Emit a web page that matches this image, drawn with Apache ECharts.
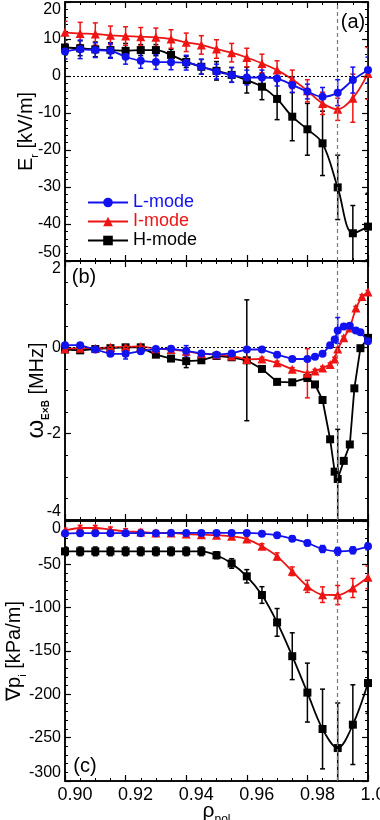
<!DOCTYPE html>
<html>
<head>
<meta charset="utf-8">
<script src="https://cdn.jsdelivr.net/npm/echarts@6/dist/echarts.min.js"></script>
<style>
html,body{margin:0;padding:0;background:#fff;}
#c{width:380px;height:820px;}
</style>
</head>
<body>
<div id="c"></div>
<script>
// ---------- data ----------
const rho = [0.900,0.905,0.910,0.915,0.920,0.925,0.930,0.935,0.940,0.945,0.950,0.955,0.960,0.965,0.970,0.975,0.980,0.985,0.990,0.995,1.000];

// panel (a): Er [kV/m]
const erL    = [6.6,7.2,7.0,6.8,5.2,4.1,3.8,3.7,3.6,2.5,1.2,0.3,-0.4,-0.4,-0.7,-2.4,-4.2,-5.6,-4.5,-1.1,1.6];
const erLErr = [2,2.5,2,2,2,2,2,2,2,2,2,2,2,2,2,2,2,2.5,3.5,3.5,3.5];
const erI    = [11.8,11.5,11.35,11.0,10.8,10.6,10.45,10.0,9.1,8.4,7.3,6.3,5.0,3.4,1.6,-0.9,-4.0,-7.4,-9.0,-6.0,0.7];
const erIErr = [3,3,3,2.5,2.5,2.5,2.5,2.5,2.5,2.5,2.5,2.5,2.5,2.5,2.5,2.5,3,3,3,6.5,7];
const erH    = [7.7,7.5,7.2,7.0,6.8,7.0,7.0,5.7,3.8,2.5,1.4,0.3,-1.1,-2.9,-6.2,-11.0,-14.4,-18.2,-30.1,-42.5,-40.7];
const erHErr = [2,2,2,2,2,1.5,1.5,1.5,1.5,2,2.5,2,3.5,3.5,5.6,6.5,7,8.7,8.7,7.5,9];

// panel (b): omega ExB [MHz]
const rhoBL = [0.900,0.905,0.910,0.915,0.920,0.925,0.930,0.935,0.940,0.945,0.950,0.955,0.960,0.965,0.970,0.975,0.980,0.9825,0.985,0.9875,0.989,0.990,0.992,0.994,0.996,0.9975,1.000];
const wL    = [0.05,0.05,-0.05,-0.15,-0.15,-0.09,-0.04,-0.03,-0.08,-0.14,-0.17,-0.14,-0.05,-0.05,-0.17,-0.27,-0.27,-0.22,-0.15,0.05,0.18,0.39,0.48,0.50,0.39,0.35,0.14];
const wLErr = [0.04,0.04,0.04,0.05,0.12,0.05,0.04,0.05,0.12,0.05,0.04,0.04,0.05,0.04,0.04,0.04,0.05,0.04,0.04,0.04,0.05,0.3,0.05,0.05,0.04,0.04,0.05];
const rhoBI = [0.900,0.905,0.910,0.915,0.920,0.925,0.930,0.935,0.940,0.945,0.950,0.955,0.960,0.965,0.970,0.975,0.980,0.9825,0.985,0.9875,0.989,0.990,0.992,0.994,0.996,0.998,1.000];
const wI    = [-0.03,-0.02,-0.02,0.0,0.01,0.02,-0.03,-0.05,-0.09,-0.15,-0.17,-0.2,-0.28,-0.27,-0.36,-0.51,-0.6,-0.55,-0.48,-0.40,-0.27,-0.04,0.22,0.45,0.91,1.18,1.28];
const wIErr = [0.04,0.07,0.04,0.04,0.04,0.04,0.04,0.04,0.04,0.04,0.04,0.04,0.04,0.04,0.04,0.04,0.57,0.04,0.04,0.04,0.04,0.04,0.04,0.04,0.04,0.04,0.04];
const rhoBH = [0.900,0.905,0.910,0.915,0.920,0.925,0.930,0.935,0.940,0.945,0.950,0.955,0.960,0.965,0.970,0.975,0.980,0.9825,0.985,0.9875,0.989,0.990,0.992,0.994,0.9955,0.9975,1.000];
const wH    = [-0.05,-0.07,-0.04,-0.02,0.0,0.0,-0.17,-0.26,-0.32,-0.3,-0.2,-0.23,-0.3,-0.5,-0.8,-0.81,-0.71,-0.86,-1.22,-2.13,-2.88,-3.05,-2.63,-2.25,-0.95,-0.02,0.22];
const wHErr = [0.03,0.03,0.03,0.03,0.03,0.03,0.03,0.03,0.15,0.03,0.03,0.03,1.4,0.03,0.03,0.03,0.03,0.03,0.03,0.03,0.03,1.15,0.03,0.03,0.03,0.03,0.03];

// panel (c): grad p_i [kPa/m]
const pL    = [-14.5,-14,-14,-14,-14,-14,-14,-13.8,-13.8,-13.8,-13.8,-13.8,-13.8,-14.6,-16.5,-20.4,-25.4,-32.3,-35,-33.8,-29.2];
const pLErr = [2.5,2.5,2.5,2.5,2.5,2.5,2.5,2.5,2.5,2.5,2.5,2.5,2.5,2.5,2.5,3,3,4,4.5,4,4];
const pI    = [-11.2,-8.1,-8.1,-10,-11.9,-12.7,-13.8,-13.8,-15,-15.8,-16.5,-17.7,-20.8,-29.2,-40.8,-58,-75.4,-85,-85.4,-77.3,-65];
const pIErr = [3,3,3,3,3,3,3,3,3,3,3,3,3,3,4,5,7,9,11,11,13];
const pH    = [-35,-35,-35,-35,-35,-35,-35,-35,-35,-35,-39.5,-49,-63.8,-85.4,-117,-156,-198,-240,-262,-235,-187];
const pHErr = [5,5,5,5,5,5,5,5,5,5,4,5.5,7.7,9.6,16,27,34,46,52,46,35];

const seriesNames = ['L-mode','I-mode','H-mode'];
const separatrix = 0.99;

// ---------- style ----------
const BLUE = '#1212ee', RED = '#ee1414', BLACK = '#000000';
const FONT = 'Liberation Sans, Arial, sans-serif';

const grids = [
  {left:65, right:12, top:2,   height:259},
  {left:65, right:12, top:261, height:259},
  {left:65, right:12, top:521, height:260}
];

function xAx(gi, pos, showLabels, extra){
  return Object.assign({
    type:'value', gridIndex:gi, position:pos, min:0.9, max:1.0, interval:0.02,
    axisLine:{show:true, onZero:false, lineStyle:{color:'#000', width:1.5}},
    axisTick:{show:true, inside:true, length:6, lineStyle:{color:'#000', width:1.2}},
    minorTick:{show:true, splitNumber:4, length:3, lineStyle:{color:'#000', width:1}},
    splitLine:{show:false},
    axisLabel:{show:showLabels, fontSize:18, fontFamily:FONT, color:'#000', margin:5,
      padding:[0,0,0,20], hideOverlap:false,
      formatter:v=>v.toFixed(2)}
  }, extra||{});
}
function yAx(gi, pos, min, max, interval, split, showLabels, extra){
  return Object.assign({
    type:'value', gridIndex:gi, position:pos, min:min, max:max, interval:interval,
    axisLine:{show:true, onZero:false, lineStyle:{color:'#000', width:1.5}},
    axisTick:{show:true, inside:true, length:6, lineStyle:{color:'#000', width:1.2}},
    minorTick:{show:true, splitNumber:split, length:3, lineStyle:{color:'#000', width:1}},
    splitLine:{show:false},
    axisLabel:{show:showLabels, fontSize:16, fontFamily:FONT, color:'#000', margin:4,
      showMinLabel:true, showMaxLabel:true, hideOverlap:false,
      verticalAlignMinLabel:'bottom', verticalAlignMaxLabel:'top'}
  }, extra||{});
}

const nameStyle = {fontFamily:FONT, color:'#000'};
const xAxes = [
  xAx(0,'bottom',false), xAx(0,'top',false),
  xAx(1,'bottom',false), xAx(1,'top',false),
  xAx(2,'bottom',true,{
    name:'{n|ρ}{s|pol}', nameLocation:'middle', nameGap:20, nameMoveOverlap:false,
    nameTextStyle:Object.assign({rich:{
      n:{fontSize:21, fontFamily:FONT, verticalAlign:'bottom', padding:[0,0,4,0]},
      s:{fontSize:12, fontFamily:FONT, verticalAlign:'bottom'}}}, nameStyle)
  }), xAx(2,'top',false)
];
const yAxes = [
  yAx(0,'left',-50,20,10,5,true,{
    name:'{n|E}{s|r}{n| [kV/m]}', nameLocation:'middle', nameRotate:90, nameGap:25, nameMoveOverlap:false,
    nameTextStyle:Object.assign({rich:{
      n:{fontSize:20, fontFamily:FONT, verticalAlign:'bottom', padding:[0,0,4,0]},
      s:{fontSize:11, fontFamily:FONT, verticalAlign:'bottom'}}}, nameStyle)
  }), yAx(0,'right',-50,20,10,5,false),
  yAx(1,'left',-4,2,2,4,true,{
    name:'{w|ω}{s|E×B}{n| [MHz]}', nameLocation:'middle', nameRotate:90, nameGap:14, nameMoveOverlap:false,
    nameTextStyle:Object.assign({rich:{
      w:{fontSize:24, fontFamily:FONT, verticalAlign:'bottom', padding:[0,0,3,0]},
      n:{fontSize:20, fontFamily:FONT, verticalAlign:'bottom', padding:[0,0,4,0]},
      s:{fontSize:10, fontFamily:FONT, fontWeight:'bold', verticalAlign:'bottom'}}}, nameStyle)
  }), yAx(1,'right',-4,2,2,4,false),
  yAx(2,'left',-300,0,50,5,true,{
    name:'{n|∇p}{s|i}{n| [kPa/m]}', nameLocation:'middle', nameRotate:90, nameGap:37, nameMoveOverlap:false,
    nameTextStyle:Object.assign({rich:{
      n:{fontSize:20, fontFamily:FONT, verticalAlign:'bottom', padding:[0,0,4,0]},
      s:{fontSize:11, fontFamily:FONT, verticalAlign:'bottom'}}}, nameStyle)
  }), yAx(2,'right',-300,0,50,5,false)
];

function pairs(xs, ys){ return xs.map((x,i)=>[x, ys[i]]); }
function triples(xs, ys, es){ return xs.map((x,i)=>[x, ys[i], es[i]]); }

function errSeries(name, xs, ys, es, gi, color){
  return {
    type:'custom', name:name + ' error', xAxisIndex:gi*2, yAxisIndex:gi*2, clip:true, z:2,
    silent:true, itemStyle:{color:color},
    dimensions:['x','y','e'], encode:{x:0, y:1},
    data:triples(xs, ys, es),
    renderItem:function(params, api){
      const x = api.value(0), y = api.value(1), e = api.value(2);
      const p1 = api.coord([x, y+e]), p2 = api.coord([x, y-e]);
      const w = 2.5;
      const st = {stroke:color, lineWidth:1.5};
      return {type:'group', children:[
        {type:'line', shape:{x1:p1[0], y1:p1[1], x2:p2[0], y2:p2[1]}, style:st},
        {type:'line', shape:{x1:p1[0]-w, y1:p1[1], x2:p1[0]+w, y2:p1[1]}, style:st},
        {type:'line', shape:{x1:p2[0]-w, y1:p2[1], x2:p2[0]+w, y2:p2[1]}, style:st}
      ]};
    }
  };
}
function lineSeries(name, xs, ys, gi, color, symbol, size, smooth, markLine){
  const s = {
    type:'line', name:name, xAxisIndex:gi*2, yAxisIndex:gi*2, z:3,
    data:pairs(xs, ys), smooth:smooth, symbol:symbol, symbolSize:size, showSymbol:true,
    lineStyle:{color:color, width:1.8}, itemStyle:{color:color}, clip:true
  };
  if (markLine) s.markLine = markLine;
  return s;
}
function marks(withZero){
  const d = [{xAxis:separatrix, lineStyle:{type:[4,3], color:'#7a7a7a', width:1.2}}];
  if (withZero) d.push({yAxis:0, lineStyle:{type:[2,2], color:'#000', width:1.2}});
  return {silent:true, symbol:['none','none'], label:{show:false}, data:d, animation:false};
}

const series = [
  // panel a
  lineSeries(seriesNames[0], rho, erL, 0, BLUE, 'circle', 8, 0.35),
  lineSeries(seriesNames[1], rho, erI, 0, RED, 'triangle', 9, 0.35),
  lineSeries(seriesNames[2], rho, erH, 0, BLACK, 'rect', 8, 0.35, marks(true)),
  errSeries(seriesNames[2], rho, erH, erHErr, 0, BLACK),
  errSeries(seriesNames[1], rho, erI, erIErr, 0, RED),
  errSeries(seriesNames[0], rho, erL, erLErr, 0, BLUE),
  // panel b
  lineSeries(seriesNames[0], rhoBL, wL, 1, BLUE, 'circle', 8, false),
  lineSeries(seriesNames[1], rhoBI, wI, 1, RED, 'triangle', 9, false),
  lineSeries(seriesNames[2], rhoBH, wH, 1, BLACK, 'rect', 8, false, marks(true)),
  errSeries(seriesNames[2], rhoBH, wH, wHErr, 1, BLACK),
  errSeries(seriesNames[1], rhoBI, wI, wIErr, 1, RED),
  errSeries(seriesNames[0], rhoBL, wL, wLErr, 1, BLUE),
  // panel c
  lineSeries(seriesNames[0], rho, pL, 2, BLUE, 'circle', 8, 0.35),
  lineSeries(seriesNames[1], rho, pI, 2, RED, 'triangle', 9, 0.35),
  lineSeries(seriesNames[2], rho, pH, 2, BLACK, 'rect', 8, 0.35, marks(false)),
  errSeries(seriesNames[2], rho, pH, pHErr, 2, BLACK),
  errSeries(seriesNames[1], rho, pI, pIErr, 2, RED),
  errSeries(seriesNames[0], rho, pL, pLErr, 2, BLUE)
];
// z-order: H below I below L
series.forEach(s=>{
  if (s.type === 'line') s.z = s.name === 'L-mode' ? 5 : (s.name === 'I-mode' ? 4 : 3);
});

const chart = echarts.init(document.getElementById('c'), null, {renderer:'canvas'});
chart.setOption({
  animation:false,
  backgroundColor:'#fff',
  grid:grids.map(g=>Object.assign({show:true, borderColor:'#000', borderWidth:1.5,
    backgroundColor:'transparent', containLabel:false, outerBoundsMode:'none'}, g)),
  xAxis:xAxes,
  yAxis:yAxes,
  legend:{
    orient:'vertical', left:82, top:188, itemWidth:40, itemHeight:12, itemGap:0,
    selectedMode:false,
    textStyle:{fontSize:18, fontFamily:FONT, lineHeight:19, height:19},
    data:[
      {name:seriesNames[0], textStyle:{color:BLUE}},
      {name:seriesNames[1], textStyle:{color:RED}},
      {name:seriesNames[2], textStyle:{color:BLACK}}
    ]
  },
  graphic:[
    {type:'text', style:{x:353, y:22, text:'(a)', align:'center', verticalAlign:'middle', font:'20px Liberation Sans, Arial, sans-serif', fill:'#000'}},
    {type:'text', style:{x:84, y:277, text:'(b)', align:'center', verticalAlign:'middle', font:'20px Liberation Sans, Arial, sans-serif', fill:'#000'}},
    {type:'text', style:{x:85, y:766, text:'(c)', align:'center', verticalAlign:'middle', font:'20px Liberation Sans, Arial, sans-serif', fill:'#000'}}
  ],
  series:series
});
</script>
</body>
</html>
